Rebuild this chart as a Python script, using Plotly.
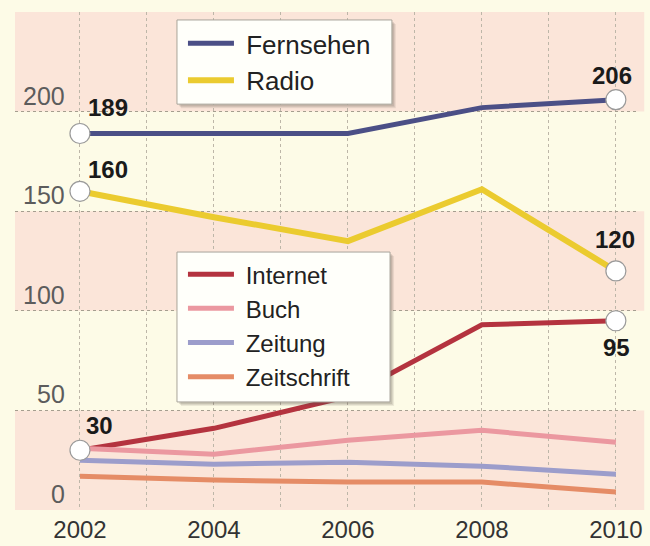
import plotly.graph_objects as go

years = [2002, 2004, 2006, 2008, 2010]
fernsehen = [189, 189, 189, 202, 206]
radio = [160, 147, 135, 161, 120]
internet = [30, 41, 57, 93, 95]
buch = [31, 28, 35, 40, 34]
zeitung = [25, 23, 24, 22, 18]
zeitschrift = [17, 15, 14, 14, 9]

x_ticks = list(range(2002, 2011))
x_ticktext = [str(y) if y % 2 == 0 else "" for y in x_ticks]
y_ticks = [0, 50, 100, 150, 200, 250]
y_ticktext = ["0", "50", "100", "150", "200", ""]
bands = [(0, 50), (100, 150), (200, 250)]

FONT = "Liberation Sans, Arial, sans-serif"
CREAM = "#fdfbe7"
PINK = "#fbe5d9"

series = [
    ("Fernsehen", fernsehen, "#4b4f86", 5, "legend"),
    ("Radio", radio, "#ebcb2f", 6, "legend"),
    ("Internet", internet, "#b4333f", 5, "legend2"),
    ("Buch", buch, "#eb98a0", 5, "legend2"),
    ("Zeitung", zeitung, "#9c9dcb", 5, "legend2"),
    ("Zeitschrift", zeitschrift, "#e58c66", 5, "legend2"),
]

fig = go.Figure()
for name, vals, color, w, lg in series:
    fig.add_trace(go.Scatter(
        x=years, y=vals, mode="lines", name="\u00a0" + name,
        line=dict(color=color, width=w), legend=lg,
    ))

# end-point markers
for vals in (fernsehen, radio, internet):
    fig.add_trace(go.Scatter(
        x=[years[0], years[-1]], y=[vals[0], vals[-1]], mode="markers",
        marker=dict(size=20, color="white", line=dict(color="#9a9a9a", width=1.2)),
        showlegend=False, hoverinfo="skip",
    ))

# value labels
labels = [
    (years[0], fernsehen[0], 28, 26),
    (years[-1], fernsehen[-1], -4, 24),
    (years[0], radio[0], 28, 22),
    (years[-1], radio[-1], -1, 31),
    (years[0], internet[0], 20, 25),
    (years[-1], internet[-1], 1, -27),
]
for xv, yv, dx, dy in labels:
    fig.add_annotation(
        x=xv, y=yv, text=str(yv), showarrow=False,
        xshift=dx, yshift=dy,
        font=dict(family=FONT, size=24, color="#1a1a1a", weight="bold"),
    )

# y tick labels (raised above their gridlines, as in the original)
for v, t in zip(y_ticks, y_ticktext):
    if t:
        fig.add_annotation(
            x=0.0835, xref="paper", y=v, yref="y", text=t, showarrow=False,
            xanchor="right", yanchor="middle", yshift=16,
            font=dict(family=FONT, size=25, color="#5c5c5c"),
        )

for y0, y1 in bands:
    fig.add_shape(type="rect", xref="paper", yref="y", x0=0, x1=1.01, y0=y0, y1=y1,
                  fillcolor=PINK, line=dict(width=0), layer="below")

# legend boxes with soft shadow
for (x0, x1, y0, y1) in [(0.26, 0.605, 0.815, 0.984), (0.26, 0.602, 0.217, 0.518)]:
    for k, a in [(4, 0.10), (3, 0.12), (2, 0.15)]:
        fig.add_shape(type="rect", xref="paper", yref="paper",
                      x0=x0 + k / 623, x1=x1 + k / 623, y0=y0 - k / 498, y1=y1 - k / 498,
                      fillcolor="rgba(90,80,70,%.2f)" % a, line=dict(width=0), layer="above")
    fig.add_shape(type="rect", xref="paper", yref="paper", x0=x0, x1=x1, y0=y0, y1=y1,
                  fillcolor="#fffffa", line=dict(color="#a8a49a", width=1), layer="above")

legend_common = dict(
    xanchor="left", yanchor="top", bgcolor="rgba(0,0,0,0)", borderwidth=0,
    itemwidth=46,
)

fig.update_layout(
    width=650, height=546,
    margin=dict(l=15, r=12, t=12, b=36),
    paper_bgcolor=CREAM, plot_bgcolor=CREAM,
    font=dict(family=FONT),
    xaxis=dict(
        range=[2001.03, 2010.33], tickvals=x_ticks, ticktext=x_ticktext,
        showgrid=True, gridcolor="#bdb6a8", griddash="dot", gridwidth=1,
        zeroline=False, showline=False, ticks="", automargin=False,
        tickfont=dict(family=FONT, size=24, color="#333333"),
        ticklabelstandoff=3,
    ),
    yaxis=dict(
        range=[0, 250], tickvals=y_ticks, showticklabels=False,
        showgrid=True, gridcolor="#a59e8f", griddash="dot", gridwidth=1,
        zeroline=False, showline=False, ticks="", automargin=False,
    ),
    legend=dict(x=0.2696, y=0.984, font=dict(family=FONT, size=26, color="#222222"),
                **legend_common),
    legend2=dict(x=0.2696, y=0.518, font=dict(family=FONT, size=24, color="#222222"),
                 **legend_common),
    showlegend=True,
)

fig.write_html("out.html", config={"displayModeBar": False},
               post_script="document.body.style.margin='0';document.body.style.background='%s';" % CREAM)
